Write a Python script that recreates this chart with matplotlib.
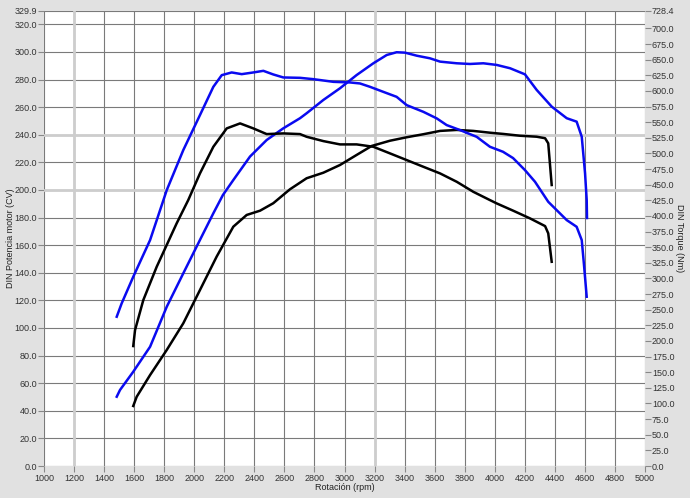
import matplotlib
matplotlib.use("Agg")
import matplotlib.pyplot as plt

plt.rcParams['font.family'] = ['Liberation Sans', 'DejaVu Sans']

# potencia (CV) - eje izquierdo
rpm_pot_azul = [1484, 1506, 1594, 1706, 1817, 1927, 2038, 2127, 2191, 2260, 2371, 2482,
                2593, 2704, 2748, 2859, 2970, 3081, 3192, 3281, 3347, 3403, 3481, 3569,
                3636, 3747, 3835, 3924, 4013, 4102, 4201, 4279, 4379, 4479, 4545, 4579,
                4601, 4612, 4614]
pot_azul = [50.2, 55.1, 68.3, 86.4, 115.4, 139.6, 163.8, 183.1, 196.4, 207.2, 224.2, 236.2,
            244.7, 252.0, 255.6, 265.2, 273.7, 283.3, 291.8, 297.8, 299.8, 299.5, 297.3, 295.4,
            293.0, 291.8, 291.3, 291.8, 290.6, 288.2, 283.8, 272.5, 260.4, 252.0, 249.5, 238.6,
            212.1, 192.8, 179.7]

rpm_pot_negro = [1594, 1617, 1706, 1817, 1927, 2038, 2149, 2260, 2349, 2438, 2526, 2637,
                 2748, 2859, 2970, 3081, 3181, 3303, 3414, 3525, 3636, 3747, 3857, 3968,
                 4057, 4168, 4279, 4335, 4356, 4379]
pot_negro = [43.5, 50.2, 65.9, 84.1, 103.4, 127.5, 151.7, 173.4, 181.9, 185.0, 190.4, 200.5,
             208.5, 212.5, 218.1, 225.4, 231.9, 235.7, 238.2, 240.4, 242.8, 243.5, 242.8, 241.5,
             240.6, 239.3, 238.6, 237.5, 233.8, 203.6]

# par (Nm) - eje derecho
rpm_par_azul = [1484, 1517, 1594, 1706, 1817, 1927, 2038, 2127, 2183, 2249, 2316, 2393,
                2460, 2526, 2593, 2704, 2792, 2926, 3037, 3103, 3170, 3258, 3347, 3414,
                3525, 3614, 3680, 3769, 3880, 3968, 4055, 4122, 4201, 4268, 4356, 4479,
                4545, 4579, 4594, 4612]
par_azul = [238.8, 260.2, 302.7, 361.4, 441.4, 505.4, 561.4, 606.6, 625.3, 629.6, 626.9, 629.6,
            632.2, 626.4, 621.6, 621.0, 618.9, 614.6, 613.6, 612.0, 606.6, 598.6, 590.6, 577.3,
            566.6, 556.1, 545.4, 537.4, 526.6, 510.7, 502.7, 492.6, 473.4, 454.7, 422.7, 393.4,
            382.7, 361.4, 321.5, 270.8]

rpm_par_negro = [1594, 1606, 1661, 1750, 1883, 1960, 2038, 2127, 2216, 2305, 2393, 2482,
                 2593, 2704, 2748, 2859, 2970, 3081, 3192, 3303, 3414, 3525, 3636, 3747,
                 3857, 3968, 4013, 4124, 4235, 4335, 4356, 4379]
par_negro = [191.9, 217.5, 265.5, 318.7, 388.2, 425.4, 468.1, 510.7, 540.1, 548.1, 540.1, 531.0,
             532.1, 531.0, 526.7, 519.8, 514.5, 514.5, 510.7, 500.1, 489.4, 478.7, 468.1, 454.7,
             438.7, 425.4, 420.1, 408.3, 396.1, 383.8, 372.2, 326.7]

x_ticks = list(range(1000, 5001, 200))
y_ticks_izq = list(range(0, 321, 20)) + [329.9]
y_ticks_der = list(range(0, 701, 25)) + [728.4]

fig = plt.figure(figsize=(6.9, 4.98), dpi=100, facecolor='#e1e1e1')
ax = fig.add_axes([44 / 690, 32 / 498, 601 / 690, 455.3 / 498])
ax.set_facecolor('white')
ax.set_xlim(1000, 5000)
ax.set_ylim(0, 329.9)
ax.set_xticks(x_ticks)
ax.set_yticks(y_ticks_izq)
ax.set_yticklabels([f'{v:.1f}' for v in y_ticks_izq])
ax.grid(True, color='#7a7a7a', linewidth=0.8)
ax.set_axisbelow(True)
for s in ax.spines.values():
    s.set_visible(False)
ax.tick_params(axis='both', labelsize=6.5, colors='#333333', length=4, width=0.8)
ax.tick_params(axis='both', color='#888888')
ax.tick_params(axis='y', pad=1)
ax.tick_params(axis='x', pad=2)

# lineas resaltadas
for v in (200, 240):
    ax.axhline(v, color='#cdcdcd', linewidth=2, zorder=1)
for v in (1200, 3200):
    ax.axvline(v, color='#cdcdcd', linewidth=2, zorder=1)

ax.plot(rpm_pot_azul, pot_azul, color='#0a0af0', linewidth=1.8, zorder=3)
ax.plot(rpm_pot_negro, pot_negro, color='black', linewidth=1.8, zorder=3)

ax.set_xlabel('Rotación (rpm)', fontsize=6.5, color='#222222')
ax.xaxis.set_label_coords(0.5, -0.038)
ax.set_ylabel('DIN Potencia motor (CV)', fontsize=6.5, color='#222222')
ax.yaxis.set_label_coords(-0.048, 0.5)

ax2 = ax.twinx()
ax2.set_ylim(0, 728.4)
ax2.set_yticks(y_ticks_der)
ax2.set_yticklabels([f'{v:.1f}' for v in y_ticks_der])
for s in ax2.spines.values():
    s.set_visible(False)
ax2.tick_params(axis='y', labelsize=6.5, colors='#333333', length=4, width=0.8, pad=1)
ax2.tick_params(axis='y', color='#888888')
ax2.plot(rpm_par_azul, par_azul, color='#0a0af0', linewidth=1.8, zorder=3)
ax2.plot(rpm_par_negro, par_negro, color='black', linewidth=1.8, zorder=3)
ax2.set_ylabel('DIN Torque (Nm)', fontsize=6.5, color='#222222', rotation=-90, labelpad=7)

fig.savefig('out.png', dpi=100, facecolor=fig.get_facecolor())
